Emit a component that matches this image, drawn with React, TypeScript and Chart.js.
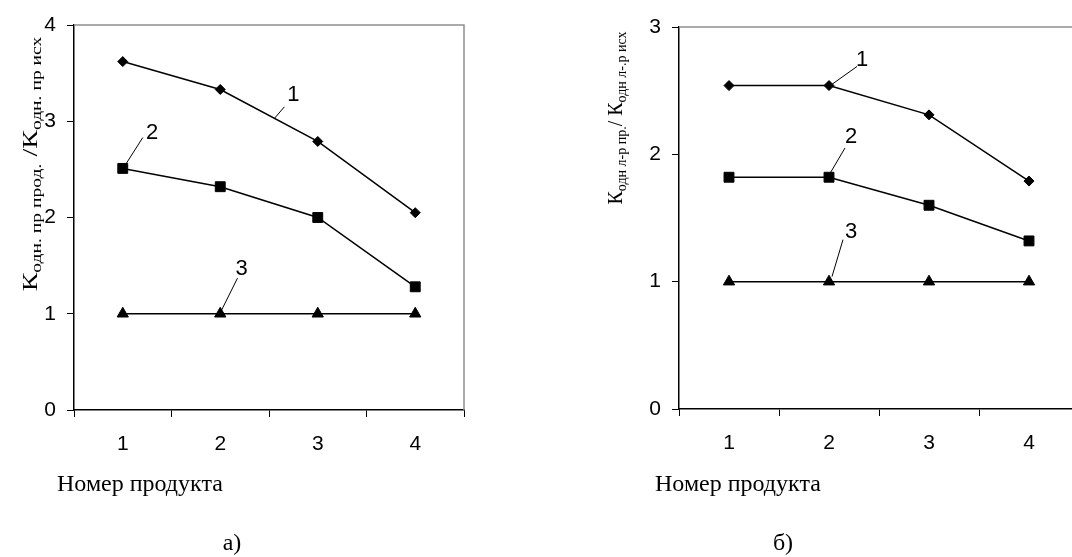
import React, { useEffect, useRef } from 'react';
import { Chart, registerables } from 'chart.js';

Chart.register(...registerables);

// ---- data ----
const categories = ['1', '2', '3', '4'];

const leftCurve1 = [3.62, 3.33, 2.79, 2.05];
const leftCurve2 = [2.51, 2.32, 2.0, 1.28];
const leftCurve3 = [1, 1, 1, 1];

const rightCurve1 = [2.54, 2.54, 2.31, 1.79];
const rightCurve2 = [1.82, 1.82, 1.6, 1.32];
const rightCurve3 = [1, 1, 1, 1];

const leftYMax = 4;
const rightYMax = 3;

const xTitle = 'Номер продукта';
const leftCaption = 'а)';
const rightCaption = 'б)';

const leftYTitle = [
  { t: 'К', sub: false },
  { t: 'одн. пр прод.', sub: true },
  { t: ' /К', sub: false },
  { t: 'одн. пр исх', sub: true },
];
const rightYTitle = [
  { t: 'К', sub: false },
  { t: 'одн л-р пр.', sub: true },
  { t: '/ К', sub: false },
  { t: 'одн л-.р исх', sub: true },
];

// curve labels: text position and leader line in data units (category index, value)
const leftNotes = [
  { text: '1', at: [1.75, 3.27], from: [1.556, 3.03], to: [1.658, 3.15] },
  { text: '2', at: [0.30, 2.88], from: [0.01, 2.52], to: [0.205, 2.83] },
  { text: '3', at: [1.22, 1.47], from: [1.0, 1.01], to: [1.177, 1.37] },
];
const rightNotes = [
  { text: '1', at: [1.33, 2.74], from: [1.03, 2.55], to: [1.28, 2.69] },
  { text: '2', at: [1.22, 2.14], from: [1.01, 1.85], to: [1.16, 2.05] },
  { text: '3', at: [1.22, 1.39], from: [1.03, 1.04], to: [1.14, 1.33] },
];

const SANS = "'Liberation Sans', Arial, sans-serif";
const SERIF = "'Liberation Serif', 'Times New Roman', serif";

type Part = { t: string; sub: boolean };
type Note = { text: string; at: number[]; from: number[]; to: number[] };

interface PanelCfg {
  width: number;
  left: number; // chartArea left in canvas px
  right: number; // chartArea right in canvas px
  top: number;
  bottom: number;
  yMax: number;
  series: number[][];
  notes: Note[];
  title: Part[];
  titleX: number;
  titleCY: number;
  titleStretch: number;
  xTitleX: number;
  xTitleY: number;
  caption: string;
  captionX: number;
  captionY: number;
}

function drawRich(
  ctx: CanvasRenderingContext2D,
  parts: Part[],
  bx: number,
  cy: number,
  stretch: number
) {
  const main = `20px ${SERIF}`;
  const small = `14px ${SERIF}`;
  let total = 0;
  const widths = parts.map((p) => {
    ctx.font = p.sub ? small : main;
    const w = ctx.measureText(p.t).width;
    total += w;
    return w;
  });
  ctx.save();
  ctx.translate(bx, cy + (total * stretch) / 2);
  ctx.rotate(-Math.PI / 2);
  ctx.scale(stretch, 1);
  ctx.fillStyle = '#000';
  ctx.textBaseline = 'alphabetic';
  ctx.textAlign = 'left';
  let u = 0;
  parts.forEach((p, i) => {
    ctx.font = p.sub ? small : main;
    ctx.fillText(p.t, u, p.sub ? 4 : 0);
    u += widths[i];
  });
  ctx.restore();
}

function makeDecor(cfg: PanelCfg) {
  return {
    id: 'decor',
    afterDraw(chart: any) {
      const { ctx, chartArea: a } = chart;
      const xs = chart.scales.x;
      const ys = chart.scales.y;
      ctx.save();
      // gray frame top & right
      ctx.strokeStyle = '#8f8f8f';
      ctx.lineWidth = 1.5;
      ctx.beginPath();
      ctx.moveTo(a.left, a.top);
      ctx.lineTo(a.right, a.top);
      ctx.lineTo(a.right, a.bottom);
      ctx.stroke();

      // curve labels with leader lines
      ctx.strokeStyle = '#000';
      ctx.lineWidth = 1;
      ctx.fillStyle = '#000';
      ctx.font = `22px ${SANS}`;
      ctx.textAlign = 'center';
      ctx.textBaseline = 'middle';
      cfg.notes.forEach((n) => {
        ctx.beginPath();
        ctx.moveTo(xs.getPixelForValue(n.from[0]), ys.getPixelForValue(n.from[1]));
        ctx.lineTo(xs.getPixelForValue(n.to[0]), ys.getPixelForValue(n.to[1]));
        ctx.stroke();
        ctx.fillText(n.text, xs.getPixelForValue(n.at[0]), ys.getPixelForValue(n.at[1]));
      });

      // x title
      ctx.font = `24px ${SERIF}`;
      ctx.textAlign = 'left';
      ctx.textBaseline = 'alphabetic';
      ctx.fillText(xTitle, cfg.xTitleX, cfg.xTitleY);

      // caption
      ctx.textAlign = 'center';
      ctx.fillText(cfg.caption, cfg.captionX, cfg.captionY);
      ctx.restore();

      drawRich(ctx, cfg.title, cfg.titleX, cfg.titleCY, cfg.titleStretch);
    },
  };
}

function buildChart(canvas: HTMLCanvasElement, cfg: PanelCfg) {
  const styles = [
    { pointStyle: 'rectRot', radius: 5 },
    { pointStyle: 'rect', radius: 7 },
    { pointStyle: 'triangle', radius: 6.5 },
  ];
  return new Chart(canvas, {
    type: 'line',
    data: {
      labels: categories,
      datasets: cfg.series.map((d, i) => ({
        data: d,
        borderColor: '#000',
        backgroundColor: '#000',
        borderWidth: 1.5,
        pointStyle: styles[i].pointStyle as any,
        pointRadius: styles[i].radius,
        pointBorderWidth: 1,
        pointBackgroundColor: '#000',
        pointBorderColor: '#000',
        tension: 0,
        clip: false as any,
      })),
    },
    options: {
      responsive: false,
      animation: false,
      devicePixelRatio: 1,
      layout: {
        padding: { left: 0, right: cfg.width - cfg.right, top: cfg.top, bottom: 0 },
      },
      plugins: { legend: { display: false }, tooltip: { enabled: false } },
      scales: {
        x: {
          type: 'category',
          offset: true,
          afterFit: (s: any) => {
            s.height = 557 - cfg.bottom;
          },
          grid: {
            offset: true,
            drawOnChartArea: false,
            drawTicks: true,
            tickLength: 7,
            color: '#000',
            tickColor: '#000',
            lineWidth: 1,
          },
          border: { display: true, color: '#000', width: 1.5 },
          ticks: {
            color: '#000',
            font: { family: SANS, size: 21 },
            padding: 15,
            maxRotation: 0,
          },
        },
        y: {
          min: 0,
          max: cfg.yMax,
          afterFit: (s: any) => {
            s.width = cfg.left;
          },
          grid: {
            drawOnChartArea: false,
            drawTicks: true,
            tickLength: 7,
            color: '#000',
            tickColor: '#000',
          },
          border: { display: true, color: '#000', width: 1.5 },
          ticks: {
            stepSize: 1,
            color: '#000',
            font: { family: SANS, size: 21 },
            padding: 11,
          },
        },
      },
    },
    plugins: [makeDecor(cfg)],
  } as any);
}

const leftCfg: PanelCfg = {
  width: 536,
  left: 74,
  right: 464,
  top: 25,
  bottom: 410,
  yMax: leftYMax,
  series: [leftCurve1, leftCurve2, leftCurve3],
  notes: leftNotes,
  title: leftYTitle,
  titleX: 37,
  titleCY: 164,
  titleStretch: 1.4,
  xTitleX: 57,
  xTitleY: 491,
  caption: leftCaption,
  captionX: 232,
  captionY: 550,
};

const rightCfg: PanelCfg = {
  width: 600,
  left: 143,
  right: 543,
  top: 27,
  bottom: 409,
  yMax: rightYMax,
  series: [rightCurve1, rightCurve2, rightCurve3],
  notes: rightNotes,
  title: rightYTitle,
  titleX: 86,
  titleCY: 118,
  titleStretch: 1,
  xTitleX: 119,
  xTitleY: 491,
  caption: rightCaption,
  captionX: 247,
  captionY: 550,
};

export default function App() {
  const leftRef = useRef<HTMLCanvasElement>(null);
  const rightRef = useRef<HTMLCanvasElement>(null);

  useEffect(() => {
    document.body.style.margin = '0';
    const c1 = buildChart(leftRef.current!, leftCfg);
    const c2 = buildChart(rightRef.current!, rightCfg);
    return () => {
      c1.destroy();
      c2.destroy();
    };
  }, []);

  return (
    <div
      style={{
        position: 'fixed',
        left: 0,
        top: 0,
        width: 1072,
        height: 557,
        overflow: 'hidden',
        background: '#fff',
      }}
    >
      <canvas
        ref={leftRef}
        width={536}
        height={557}
        style={{ position: 'absolute', left: 0, top: 0, width: 536, height: 557 }}
      />
      <canvas
        ref={rightRef}
        width={600}
        height={557}
        style={{ position: 'absolute', left: 536, top: 0, width: 600, height: 557 }}
      />
    </div>
  );
}
